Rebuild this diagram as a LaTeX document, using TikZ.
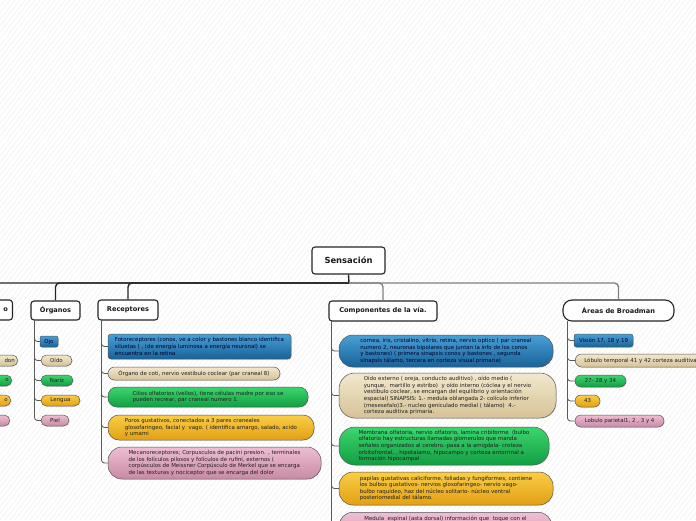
\documentclass[tikz,border=0pt]{standalone}
\usepackage{fontspec}
\setmainfont{DejaVu Sans}
\usetikzlibrary{shadows}
\definecolor{bT}{RGB}{72,160,215}
\definecolor{bB}{RGB}{24,98,152}
\definecolor{tT}{RGB}{242,232,206}
\definecolor{tB}{RGB}{214,194,150}
\definecolor{gT}{RGB}{60,214,110}
\definecolor{gB}{RGB}{18,158,66}
\definecolor{oT}{RGB}{250,205,70}
\definecolor{oB}{RGB}{226,160,20}
\definecolor{pT}{RGB}{238,190,210}
\definecolor{pB}{RGB}{200,138,165}
\definecolor{edge}{RGB}{85,85,85}
\tikzset{
  cat/.style={draw=black!85, line width=1.1pt, fill=white, rounded corners=3pt, inner sep=0pt,
    font=\bfseries\fontsize{6.6}{8}\selectfont, text=black!90},
  leaf/.style={draw=edge, line width=0.5pt, inner sep=0pt, font=\fontsize{5.45}{6.6}\selectfont,
    align=left, text=black!88, drop shadow={opacity=0.18, shadow xshift=0.7pt, shadow yshift=-0.7pt}},
  cblue/.style={top color=bT, bottom color=bB, text=black!85!blue},
  ctan/.style={top color=tT, bottom color=tB},
  cgreen/.style={top color=gT, bottom color=gB},
  corange/.style={top color=oT, bottom color=oB},
  cpink/.style={top color=pT, bottom color=pB},
  conn/.style={draw=black!65, line width=0.8pt, rounded corners=3pt},
  busdark/.style={draw=black!85, line width=1.4pt, rounded corners=4pt},
  buslight/.style={draw=black!50, line width=1.4pt, rounded corners=4pt},
  bgline/.style={draw=black!7, line width=0.35pt},
}
\begin{document}
\begin{tikzpicture}[x=1pt,y=-1pt]
\useasboundingbox (0,0) rectangle (696,520);
\clip (0,0) rectangle (696,520);
\fill[white] (0,0) rectangle (696,520);
\foreach \i in {-420,-415,...,700} \draw[bgline] (\i,520) -- ({\i+400},0);

% root
\node[cat, font=\bfseries\fontsize{8.4}{10}\selectfont, minimum width=73pt, minimum height=27pt] (sens) at (348.5,260.5) {Sensación};
\coordinate (bus) at (349,283);

% categories
\node[cat, anchor=east, text width=44pt, align=right, inner xsep=4.5pt, minimum height=20pt] (cat0) at (13,310) {o};
\node[cat, minimum width=49pt, minimum height=19pt] (organos) at (55.5,310.5) {Órganos};
\node[cat, minimum width=60pt, minimum height=20pt] (receptores) at (128,310) {Receptores};
\node[cat, minimum width=108pt, minimum height=20pt] (componentes) at (383,311) {Componentes de la vía.};
\node[cat, rounded corners=9pt, minimum width=111pt, minimum height=21pt] (areas) at (618.5,310.5) {Áreas de Broadman};

% bus
\draw[busdark] (sens.south) -- (bus);
\draw[busdark] (bus) -| (cat0.north);
\draw[busdark] (bus) -| (organos.north);
\draw[busdark] (bus) -| (receptores.north);
\draw[buslight] (bus) -| (componentes.north);
\draw[buslight] (bus) -| (areas.north);

% hidden-left category children
\node[leaf, ctan, rounded corners=5.5pt, anchor=east, text width=44pt, align=right, inner xsep=3pt, minimum height=11pt] (h1) at (18,360.5) {don};
\node[leaf, cgreen, rounded corners=5.5pt, anchor=east, text width=44pt, align=right, inner xsep=3pt, minimum height=11pt] (h2) at (12,380.5) {o};
\node[leaf, corange, rounded corners=5.5pt, anchor=east, text width=44pt, align=right, inner xsep=3pt, minimum height=11pt] (h3) at (11,400.5) {o};
\node[leaf, cpink, rounded corners=5.5pt, anchor=east, text width=44pt, align=right, inner xsep=3pt, minimum height=11pt] (h4) at (10,420.5) {};

% Organos children
\node[leaf, cblue, rounded corners=2pt, minimum width=18pt, minimum height=11pt] (ojo) at (49,341.5) {Ojo};
\node[leaf, ctan, rounded corners=5.5pt, minimum width=31pt, minimum height=11pt] (oido) at (56.5,360.5) {Oído};
\node[leaf, cgreen, rounded corners=5.5pt, minimum width=32pt, minimum height=11pt] (nariz) at (57,380.5) {Nariz};
\node[leaf, corange, rounded corners=5.5pt, minimum width=39pt, minimum height=11pt] (lengua) at (60.5,400.5) {Lengua};
\node[leaf, cpink, rounded corners=5.5pt, minimum width=28pt, minimum height=11pt] (piel) at (55,420.5) {Piel};
\coordinate (tO) at ([xshift=4pt]organos.south west);
\foreach \c in {ojo,oido,nariz,lengua,piel} \draw[conn] (tO) |- (\c.west);

% Receptores children
\node[leaf, cblue, rounded corners=3pt, minimum width=183pt, minimum height=25pt] (foto) at (199.5,346.5)
 {Fotoreceptores (conos, ve a color y bastones blanco identifica\\siluetas ) , (de energía luminosa a energía neuronal) se\\encuentra en la retina};
\node[leaf, ctan, rounded corners=6.5pt, minimum width=172pt, minimum height=13pt] (coti) at (194,373.5)
 {Órgano de coti, nervio vestibulo coclear (par craneal 8)};
\node[leaf, cgreen, rounded corners=9pt, minimum width=200pt, minimum height=20pt] (cilios) at (208,397)
 {Cilios olfatorios (vellos), tiene células madre por eso se\\pueden recrear, par craneal numero 1.};
\node[leaf, corange, rounded corners=11pt, minimum width=206pt, minimum height=25pt] (poros) at (211,427.5)
 {Poros gustativos, conectados a 3 pares craneales\\glosofaringeo, facial y\ \ vago. ( identifica amargo, salado, acido\\y umami};
\node[leaf, cpink, rounded corners=14pt, minimum width=213pt, minimum height=32pt] (mecano) at (214.5,463)
 {Mecanoreceptores; Corpusculos de pacini presion. , terminales\\de los folículos pilosos y folículos de rufini, externos (\\corpúsculos de Meissner Corpúsculo de Merkel que se encarga\\de las texturas y nociceptor que se encarga del dolor};
\coordinate (tR) at ([xshift=4pt]receptores.south west);
\foreach \c in {foto,coti,cilios,poros,mecano} \draw[conn] (tR) |- (\c.west);

% Componentes children
\node[leaf, cblue, rounded corners=14pt, minimum width=214pt, minimum height=32pt] (vis1) at (446,351)
 {cornea, iris, cristalino, vitrio, retina, nervio optico ( par craneal\\numero 2, neuronas bipolares que juntan la info de los conos\\y bastones) ( primera sinapsis conos y bastones , segunda\\sinapsis tálamo, tercera en corteza visual primaria)};
\node[leaf, ctan, rounded corners=16pt, minimum width=217pt, minimum height=45pt] (aud1) at (447.5,395.5)
 {Oído externo ( oreja, conducto auditivo) , oído medio (\\yunque,\ \ martillo y estribo)\ \ y oído interno (cóclea y el nervio\\vestibulo coclear, se encargan del equilibrio y orientación\\espacial) SINAPSIS: 1.- medula oblangada 2- colículo inferior\\(mesesefalo)3.- nucleo geniculado medial ( tálamo)\ \ 4.-\\corteza auditiva primaria.};
\node[leaf, cgreen, rounded corners=16pt, minimum width=210pt, minimum height=38pt] (olf1) at (444,446)
 {Membrana olfatoria, nervio olfatorio, lamina cribiforme\ \ (bulbo\\olfatorio hay estructuras llamadas glomerulos que manda\\señales organizados al cerebro.-pasa a la amigdala- croteza\\orbitofrontal, , hipotalamo, hipocampo y corteza entorrinal a\\formación hipocampal};
\node[leaf, corange, rounded corners=14pt, minimum width=214pt, minimum height=33pt] (gus1) at (446,488.5)
 {papilas gustativas caliciforme, foliadas y fungiformes, contiene\\los bulbos gustativos- nervios glosofaringeo- nervio vago-\\bulbo raquideo, haz del núcleo solitario- núcleo ventral\\posteriomedial del tálamo.};
\node[leaf, cpink, rounded corners=14pt, minimum width=213pt, inner ysep=3.5pt, text depth=30pt, anchor=north] (tac1) at (445.5,512)
 {Medula\ \ espinal (asta dorsal) información que\ \ toque con el};
\coordinate (tC) at ([xshift=3pt]componentes.south west);
\foreach \c in {vis1,aud1,olf1,gus1,tac1} \draw[conn] (tC) |- (\c.west);

% Areas children
\node[leaf, cblue, rounded corners=2.5pt, minimum width=59pt, minimum height=13pt] (av) at (603.5,340.5) {Visión 17, 18 y 19};
\node[leaf, ctan, rounded corners=6.5pt, anchor=west, inner xsep=9pt, minimum height=13pt] (aa) at (575,360.5) {Lóbulo temporal 41 y 42 corteza auditiva};
\node[leaf, cgreen, rounded corners=6pt, minimum width=51pt, minimum height=12pt] (ao) at (600.5,381) {27- 28 y 34};
\node[leaf, corange, rounded corners=6pt, minimum width=25pt, minimum height=12pt] (ag) at (587.5,401) {43};
\node[leaf, cpink, rounded corners=6pt, minimum width=89pt, minimum height=12pt] (ap) at (619.5,421) {Lobulo parietal1, 2 , 3 y 4};
\coordinate (tA) at ([xshift=5pt]areas.south west);
\foreach \c in {av,aa,ao,ag,ap} \draw[conn] (tA) |- (\c.west);
\end{tikzpicture}
\end{document}
